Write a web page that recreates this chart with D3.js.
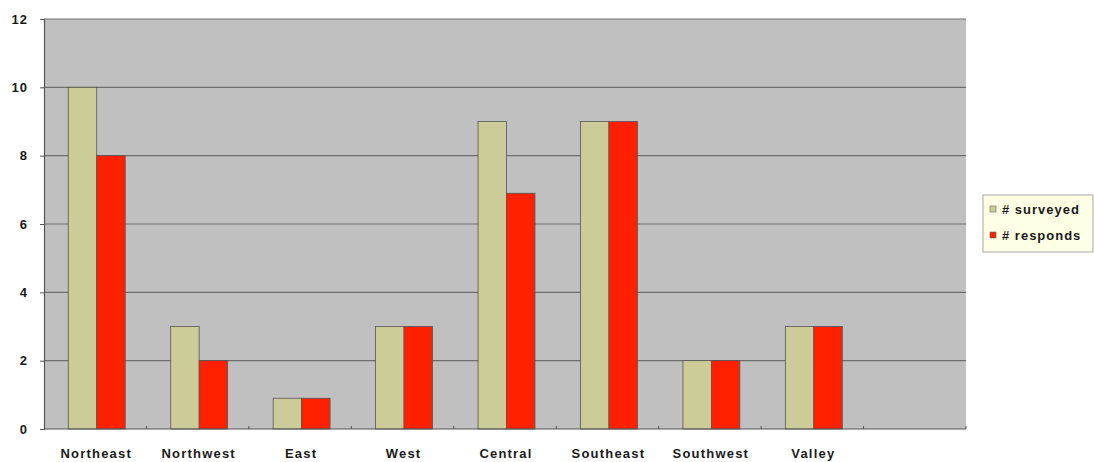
<!DOCTYPE html>
<html>
<head>
<meta charset="utf-8">
<script src="https://cdn.jsdelivr.net/npm/d3@7"></script>
<style>
  html, body { margin: 0; padding: 0; background: #fff; }
  svg { display: block; font-family: "Liberation Sans", Arial, sans-serif; }
</style>
</head>
<body>
<svg id="chart" width="1094" height="462"></svg>
<script>
// Regions surveyed and how many responded
const categories = ["Northeast", "Northwest", "East", "West", "Central", "Southeast", "Southwest", "Valley"];
const surveyed = [10, 3, 0.9, 3, 9, 9, 2, 3];
const responds = [8, 2, 0.9, 3, 6.9, 9, 2, 3];
const seriesNames = ["# surveyed", "# responds"];
const seriesColors = ["#CCCC99", "#FF2000"];
const yTicks = [0, 2, 4, 6, 8, 10, 12];

const svg = d3.select("#chart");
const plot = { left: 44, right: 966, top: 19, bottom: 429 };
const labelStyle = sel => sel
  .attr("font-size", 13).attr("font-weight", "bold").attr("fill", "#1a1a1a")
  .attr("letter-spacing", "1.2px")
  .attr("font-family", "'Liberation Sans', Arial, sans-serif");

// Nine slots along the axis; the last one stays empty
const slots = categories.concat([""]);
const x = d3.scaleBand().domain(d3.range(slots.length)).range([plot.left, plot.right]).paddingInner(0).paddingOuter(0);
const y = d3.scaleLinear().domain([0, 12]).range([plot.bottom, plot.top]);

// Plot background
svg.append("rect")
  .attr("x", plot.left).attr("y", plot.top)
  .attr("width", plot.right - plot.left).attr("height", plot.bottom - plot.top)
  .attr("fill", "#C0C0C0");

// Horizontal gridlines
svg.append("g").selectAll("line").data(yTicks.filter(d => d > 0)).join("line")
  .attr("x1", plot.left).attr("x2", plot.right)
  .attr("y1", d => y(d)).attr("y2", d => y(d))
  .attr("stroke", "#6E6E6E").attr("stroke-width", 1.2);

// Bars
const inner = d3.scaleBand().domain([0, 1]).range([1.5, x.bandwidth() + 1.5]).paddingOuter(0.8).paddingInner(0);
const series = [surveyed, responds];
series.forEach((vals, si) => {
  svg.append("g").selectAll("rect").data(vals).join("rect")
    .attr("x", (d, i) => x(i) + inner(si))
    .attr("y", d => y(d))
    .attr("width", inner.bandwidth())
    .attr("height", d => y(0) - y(d))
    .attr("fill", seriesColors[si])
    .attr("stroke", "#555").attr("stroke-width", 0.8);
});

// Y axis
const yAxis = svg.append("g").attr("transform", `translate(${plot.left},0)`)
  .call(d3.axisLeft(y).tickValues(yTicks).tickSize(4).tickPadding(12).tickFormat(d3.format("d")));
yAxis.select(".domain").attr("stroke", "#555").attr("stroke-width", 1.2);
yAxis.selectAll(".tick line").attr("stroke", "#555");
yAxis.selectAll("text").call(labelStyle).attr("letter-spacing", "1px");

// X axis with tick marks at slot boundaries
const xAxisG = svg.append("g").attr("transform", `translate(0,${plot.bottom})`);
xAxisG.append("line").attr("x1", plot.left).attr("x2", plot.right).attr("y1", 0).attr("y2", 0)
  .attr("stroke", "#555").attr("stroke-width", 1.2);
xAxisG.selectAll("line.tk").data(d3.range(1, slots.length + 1)).join("line").attr("class", "tk")
  .attr("x1", d => x(d - 1) + x.bandwidth()).attr("x2", d => x(d - 1) + x.bandwidth())
  .attr("y1", -3).attr("y2", 0).attr("stroke", "#555");
xAxisG.selectAll("text").data(categories).join("text")
  .attr("x", (d, i) => x(i) + x.bandwidth() / 2 + 1)
  .attr("y", 29)
  .attr("text-anchor", "middle")
  .call(labelStyle)
  .text(d => d);

// Legend
const lg = svg.append("g").attr("transform", "translate(983,195)");
lg.append("rect").attr("x", 0).attr("y", 0).attr("width", 110).attr("height", 57)
  .attr("fill", "#FFFFE6").attr("stroke", "#A8A8A8");
seriesNames.forEach((name, i) => {
  const row = lg.append("g").attr("transform", `translate(7,${16 + i * 26})`);
  row.append("rect").attr("x", 0).attr("y", -5).attr("width", 6).attr("height", 6)
    .attr("fill", seriesColors[i]).attr("stroke", "#666").attr("stroke-width", 0.6);
  row.append("text").attr("x", 12).attr("y", 3)
    .call(labelStyle).attr("letter-spacing", "1px").text(name);
});
</script>
</body>
</html>
